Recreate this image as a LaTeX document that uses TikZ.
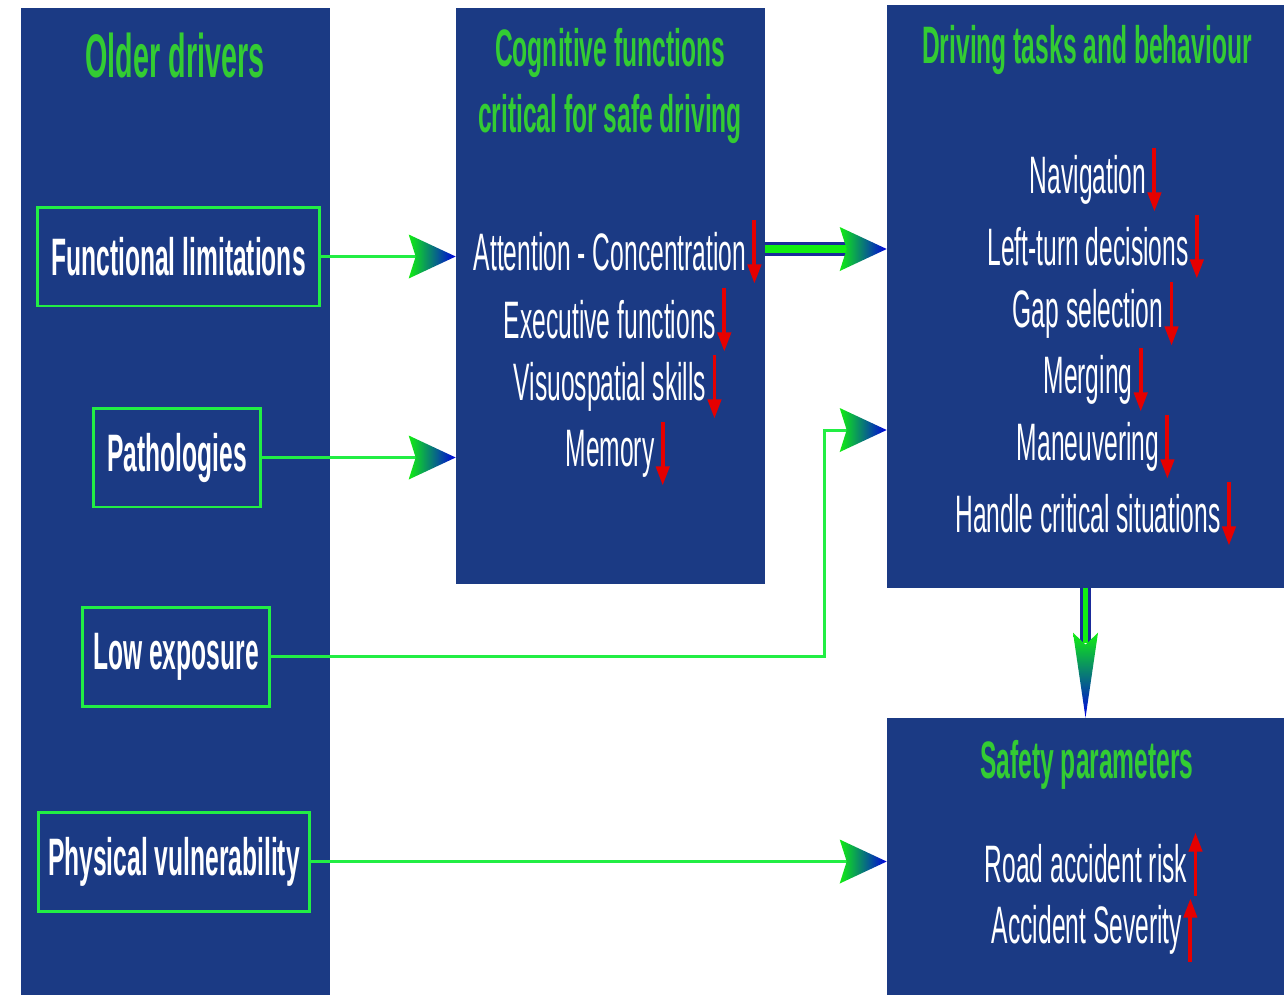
\documentclass[tikz,border=0pt]{standalone}
\usepackage{fontspec}
\setmainfont[FakeStretch=0.467]{Liberation Sans}
\usepackage{tikz}
\usetikzlibrary{positioning,arrows.meta}

\definecolor{panelblue}{HTML}{1B3A84}
\definecolor{titlegreen}{HTML}{33CC33}
\definecolor{linegreen}{HTML}{22EE44}
\definecolor{headgreen}{HTML}{11EE11}
\definecolor{headblue}{HTML}{0000E0}
\definecolor{edgeblue}{HTML}{1A2A9A}
\definecolor{arrowred}{HTML}{E60000}

\tikzset{
  panel/.style={fill=panelblue, draw=none, inner sep=0pt},
  paneltitle/.style={text=titlegreen, font=\fontsize{30}{38}\selectfont\bfseries, align=center, inner sep=0pt},
  factor/.style={draw=linegreen, line width=1.7pt, text=white, font=\fontsize{30}{34}\selectfont\bfseries, minimum height=1.98cm, inner sep=0pt},
  item/.style={text=white, font=\fontsize{30}{34}\selectfont, inner sep=0pt},
  feed/.style={draw=linegreen, line width=1.7pt},
  flow/.style={draw=edgeblue, line width=2pt, double=headgreen, double distance=4.5pt},
  downflow/.style={draw=edgeblue, line width=1.7pt, double=headgreen, double distance=2.5pt},
  redarrow/.style={draw=arrowred, line width=2.2pt, -{Triangle[length=11pt,width=7.5pt]}}
}

% gradient arrow head, tip at #1
\newcommand{\gradhead}[1]{\shade[left color=headgreen, right color=headblue] (#1) -- ++(-47,22) -- ++(7,-22) -- ++(-7,-22) -- cycle;}

\begin{document}
\begin{tikzpicture}[x=0.02cm, y=-0.02cm]
            \useasboundingbox[fill=white] (0,0) rectangle (1284,995);

            % panels
            \node[panel, minimum width=6.18cm, minimum height=19.74cm] (older) at (175.5,501.5) {};
            \node[panel, minimum width=6.18cm, minimum height=11.52cm] (cog) at (610.5,296) {};
            \node[panel, minimum width=7.94cm, minimum height=11.66cm] (task) at (1085.5,296.5) {};
            \node[panel, minimum width=7.94cm, minimum height=5.54cm] (safe) at (1085.5,856.5) {};

            % titles
            \node[paneltitle, font=\fontsize{35}{38}\selectfont\bfseries] (oldertitle) at (175,56) {Older drivers};
            \node[paneltitle] (cogtitle) at (610,86) {Cognitive functions\\critical for safe driving};
            \node[paneltitle] (tasktitle) at (1087,50) {Driving tasks and behaviour};
            \node[paneltitle] (safetitle) at (1087,765) {Safety parameters};

            % factors
            \node[factor, minimum width=5.66cm] (func) at (178.5,256.5) {Functional limitations};
            \node[factor, minimum width=3.36cm] (path) at (177,457.5) {Pathologies};
            \node[factor, minimum width=3.76cm] (low) at (176,656.5) {Low exposure};
            \node[factor, minimum width=5.44cm] (phys) at (174,861.5) {Physical vulnerability};

            % cognitive functions
            \node[item] (att) at (610,252) {Attention - Concentration};
            \node[item] (exe) at (610,320) {Executive functions};
            \node[item] (vis) at (610,387) {Visuospatial skills};
            \node[item] (mem) at (610,454) {Memory};

            % driving tasks
            \node[item] (nav) at (1088,180) {Navigation};
            \node[item] (left) at (1088,247) {Left-turn decisions};
            \node[item] (gap) at (1088,314) {Gap selection};
            \node[item] (mer) at (1088,380) {Merging};
            \node[item] (man) at (1088,447) {Maneuvering};
            \node[item] (hand) at (1088,514) {Handle critical situations};

            % safety
            \node[item] (road) at (1086,864) {Road accident risk};
            \node[item] (sev) at (1087,930) {Accident Severity};

            % red markers
            \foreach \n in {att,exe,vis,mem,nav,left,gap,mer,man,hand}
              \draw[redarrow] ([xshift=4.5pt,yshift=18pt]\n.east) -- ++(0,-36pt);
            \foreach \n in {road,sev}
              \draw[redarrow] ([xshift=4.5pt,yshift=-18pt]\n.east) -- ++(0,36pt);

            % connectors
            \coordinate (functip) at (cog.west |- func.east);
            \coordinate (pathtip) at (cog.west |- path.east);
            \coordinate (lowtip) at (task.west |- 0,430);
            \coordinate (phystip) at (safe.west |- phys.east);
            \coordinate (atttip) at (task.west |- 0,249);

            \draw[feed] (func.east) -- ([xshift=-0.8cm]functip);
            \gradhead{functip}
            \draw[feed] (path.east) -- ([xshift=-0.8cm]pathtip);
            \gradhead{pathtip}
            \draw[feed] (low.east) -| ([xshift=-1.24cm]lowtip) -- ([xshift=-0.8cm]lowtip);
            \gradhead{lowtip}
            \draw[feed] (phys.east) -- ([xshift=-0.8cm]phystip);
            \gradhead{phystip}

            \draw[flow] (cog.east |- atttip) -- ([xshift=-0.8cm]atttip);
            \gradhead{atttip}

            \draw[downflow] (task.south) -- ([yshift=1.5cm]safe.north);
            \shade[top color=headgreen, bottom color=headblue] (safe.north) -- ++(-12.5,-85) -- ++(12.5,12) -- ++(12.5,-12) -- cycle;
            \end{tikzpicture}
\end{document}
